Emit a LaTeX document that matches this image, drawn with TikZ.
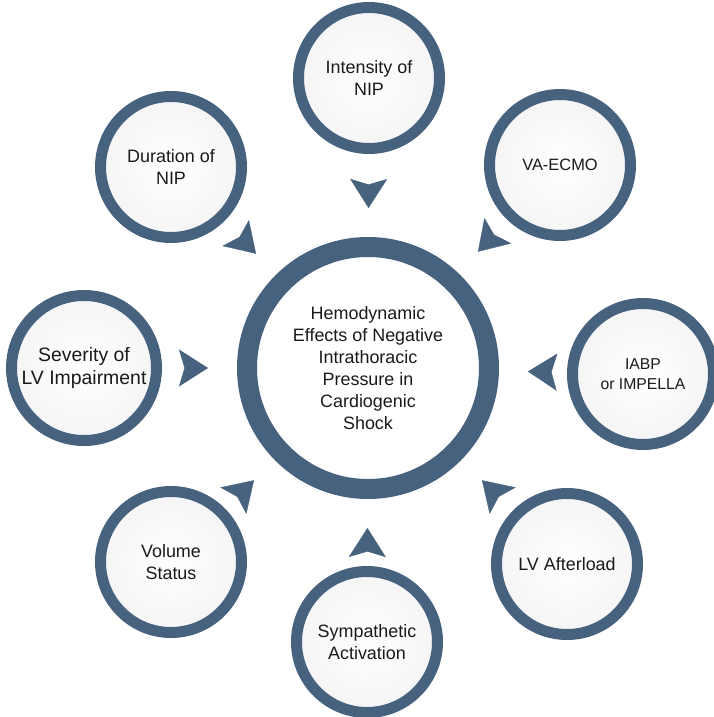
\documentclass[tikz,border=0pt]{standalone}
\usepackage{fontspec}
\setmainfont{Liberation Sans}
\usetikzlibrary{calc,arrows.meta}
\definecolor{ringblue}{HTML}{47627F}
\definecolor{inktext}{HTML}{1A1A1A}
\begin{document}
\begin{tikzpicture}[x=1bp,y=-1bp,
  labeltext/.style={align=center, text=inktext, font=\fontsize{18}{22}\selectfont},
  factor/.style={circle, draw=ringblue, line width=11bp, minimum size=141bp,
    inner sep=0pt, inner color=white, outer color=black!4, labeltext},
  hub/.style={circle, draw=ringblue, line width=20bp, minimum size=242bp,
    inner sep=0pt, fill=white, labeltext},
  pointer/.style={ringblue, line width=0.3bp,
    -{Stealth[length=29bp,width=37bp,inset=5.5bp]}}]
  % canvas
  \fill[white] (0,0) rectangle (714,717);
  \useasboundingbox (0,0) rectangle (714,717);

  % central topic
  \node[hub] (hub) at (368,368) {Hemodynamic\\Effects of Negative\\Intrathoracic\\Pressure in\\Cardiogenic\\Shock};

  % contributing factors around the hub
  \node[factor] (int)  at (369,78)  {Intensity of\\NIP};
  \node[factor, font=\fontsize{16.5}{20}\selectfont] (vae) at (560,165) {VA-ECMO};
  \node[factor, font=\fontsize{15.8}{20}\selectfont] (iabp) at (643,374) {IABP\\or IMPELLA};
  \node[factor] (lva)  at (567,564) {LV Afterload};
  \node[factor] (sym)  at (367,642) {Sympathetic\\Activation};
  \node[factor] (vol)  at (171,562) {Volume\\Status};
  \node[factor, minimum size=145bp, font=\fontsize{19.5}{23}\selectfont] (sev) at (84,368) {Severity of\\LV Impairment};
  \node[factor] (dur)  at (171,167) {Duration of\\NIP};

  % arrowheads pointing from each factor towards the hub
  \foreach \n in {int,vae,iabp,lva,sym,vol,sev,dur}
    \draw[pointer] ($(hub.center)!182bp!(\n.center)$) -- ($(hub.center)!160bp!(\n.center)$);
\end{tikzpicture}
\end{document}
